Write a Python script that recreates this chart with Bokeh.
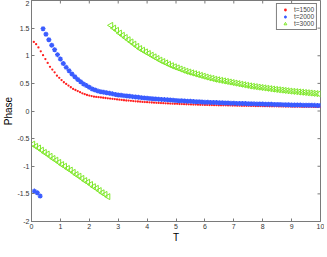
import numpy as np
from bokeh.plotting import figure
from bokeh.models import FixedTicker, Legend, LegendItem
from bokeh.embed import file_html
from bokeh.resources import INLINE

x_ticks = [0, 1, 2, 3, 4, 5, 6, 7, 8, 9, 10]
y_ticks = [-2, -1.5, -1, -0.5, 0, 0.5, 1, 1.5, 2]
y_tick_labels = ["-2", "-1.5", "-1", "-0.5", "0", "0.5", "1", "1.5", "2"]
series_names = ["t=1500", "t=2000", "t=3000"]

red_t = [0.08, 0.16, 0.24, 0.32, 0.40, 0.48, 0.56, 0.64, 0.72, 0.80,
         0.88, 0.96, 1.04, 1.12, 1.20, 1.28, 1.36, 1.44, 1.52, 1.60,
         1.68, 1.76, 1.84, 1.92, 2.00, 2.08, 2.16, 2.24, 2.32, 2.40,
         2.48, 2.56, 2.64, 2.72, 2.80, 2.88, 2.96, 3.04, 3.12, 3.20,
         3.28, 3.36, 3.44, 3.52, 3.60, 3.68, 3.76, 3.84, 3.92, 4.00,
         4.08, 4.16, 4.24, 4.32, 4.40, 4.48, 4.56, 4.64, 4.72, 4.80,
         4.88, 4.96, 5.04, 5.12, 5.20, 5.28, 5.36, 5.44, 5.52, 5.60,
         5.68, 5.76, 5.84, 5.92, 6.00, 6.08, 6.16, 6.24, 6.32, 6.40,
         6.48, 6.56, 6.64, 6.72, 6.80, 6.88, 6.96, 7.04, 7.12, 7.20,
         7.28, 7.36, 7.44, 7.52, 7.60, 7.68, 7.76, 7.84, 7.92, 8.00,
         8.08, 8.16, 8.24, 8.32, 8.40, 8.48, 8.56, 8.64, 8.72, 8.80,
         8.88, 8.96, 9.04, 9.12, 9.20, 9.28, 9.36, 9.44, 9.52, 9.60,
         9.68, 9.76, 9.84, 9.92, 10.00]
red_phase = [1.25, 1.21, 1.15, 1.08, 1.01, 0.94, 0.87, 0.80, 0.75, 0.70,
             0.64, 0.60, 0.56, 0.52, 0.49, 0.46, 0.43, 0.40, 0.38, 0.36,
             0.34, 0.32, 0.305, 0.29, 0.28, 0.27, 0.26, 0.255, 0.25, 0.245,
             0.24, 0.235, 0.23, 0.225, 0.22, 0.215, 0.21, 0.205, 0.20, 0.195,
             0.19, 0.188, 0.184, 0.18, 0.176, 0.172, 0.169, 0.165, 0.162, 0.16,
             0.157, 0.154, 0.151, 0.148, 0.146, 0.143, 0.141, 0.139, 0.137, 0.135,
             0.133, 0.131, 0.129, 0.127, 0.126, 0.124, 0.122, 0.121, 0.119, 0.118,
             0.116, 0.115, 0.113, 0.112, 0.11, 0.109, 0.108, 0.107, 0.106, 0.105,
             0.104, 0.103, 0.102, 0.102, 0.101, 0.100, 0.099, 0.098, 0.097, 0.096,
             0.095, 0.094, 0.094, 0.093, 0.092, 0.091, 0.090, 0.090, 0.089, 0.088,
             0.087, 0.087, 0.086, 0.085, 0.085, 0.084, 0.083, 0.083, 0.082, 0.081,
             0.081, 0.080, 0.079, 0.079, 0.078, 0.078, 0.077, 0.076, 0.076, 0.075,
             0.075, 0.074, 0.073, 0.073, 0.072]

blue_t = [0.1, 0.2, 0.3, 0.4, 0.5, 0.6, 0.7, 0.8, 0.9, 1.0,
          1.1, 1.2, 1.3, 1.4, 1.5, 1.6, 1.7, 1.8, 1.9, 2.0,
          2.1, 2.2, 2.3, 2.4, 2.5, 2.6, 2.7, 2.8, 2.9, 3.0,
          3.1, 3.2, 3.3, 3.4, 3.5, 3.6, 3.7, 3.8, 3.9, 4.0,
          4.1, 4.2, 4.3, 4.4, 4.5, 4.6, 4.7, 4.8, 4.9, 5.0,
          5.1, 5.2, 5.3, 5.4, 5.5, 5.6, 5.7, 5.8, 5.9, 6.0,
          6.1, 6.2, 6.3, 6.4, 6.5, 6.6, 6.7, 6.8, 6.9, 7.0,
          7.1, 7.2, 7.3, 7.4, 7.5, 7.6, 7.7, 7.8, 7.9, 8.0,
          8.1, 8.2, 8.3, 8.4, 8.5, 8.6, 8.7, 8.8, 8.9, 9.0,
          9.1, 9.2, 9.3, 9.4, 9.5, 9.6, 9.7, 9.8, 9.9, 10.0]
blue_phase = [-1.45, -1.48, -1.54, 1.49, 1.39, 1.29, 1.19, 1.11, 1.02, 0.94,
              0.86, 0.79, 0.73, 0.67, 0.62, 0.57, 0.53, 0.49, 0.46, 0.43,
              0.40, 0.38, 0.36, 0.35, 0.34, 0.33, 0.32, 0.31, 0.30, 0.29,
              0.284, 0.278, 0.272, 0.266, 0.26, 0.254, 0.248, 0.242, 0.236, 0.23,
              0.226, 0.222, 0.218, 0.214, 0.21, 0.206, 0.202, 0.198, 0.194, 0.19,
              0.187, 0.184, 0.181, 0.178, 0.175, 0.172, 0.169, 0.166, 0.163, 0.16,
              0.158, 0.156, 0.154, 0.152, 0.15, 0.148, 0.146, 0.144, 0.142, 0.14,
              0.138, 0.137, 0.135, 0.134, 0.132, 0.131, 0.129, 0.128, 0.126, 0.125,
              0.123, 0.122, 0.121, 0.119, 0.118, 0.116, 0.115, 0.114, 0.112, 0.11,
              0.109, 0.108, 0.107, 0.106, 0.105, 0.104, 0.103, 0.102, 0.101, 0.10]

green_t = [0.05, 0.15, 0.25, 0.35, 0.45, 0.55, 0.65, 0.75, 0.85, 0.95,
           1.05, 1.15, 1.25, 1.35, 1.45, 1.55, 1.65, 1.75, 1.85, 1.95,
           2.05, 2.15, 2.25, 2.35, 2.45, 2.55, 2.65, 2.75, 2.85, 2.95,
           3.05, 3.15, 3.25, 3.35, 3.45, 3.55, 3.65, 3.75, 3.85, 3.95,
           4.05, 4.15, 4.25, 4.35, 4.45, 4.55, 4.65, 4.75, 4.85, 4.95,
           5.05, 5.15, 5.25, 5.35, 5.45, 5.55, 5.65, 5.75, 5.85, 5.95,
           6.05, 6.15, 6.25, 6.35, 6.45, 6.55, 6.65, 6.75, 6.85, 6.95,
           7.05, 7.15, 7.25, 7.35, 7.45, 7.55, 7.65, 7.75, 7.85, 7.95,
           8.05, 8.15, 8.25, 8.35, 8.45, 8.55, 8.65, 8.75, 8.85, 8.95,
           9.05, 9.15, 9.25, 9.35, 9.45, 9.55, 9.65, 9.75, 9.85, 9.95]
green_phase = [-0.60, -0.64, -0.67, -0.71, -0.75, -0.78, -0.82, -0.86, -0.89, -0.93,
               -0.97, -1.00, -1.04, -1.07, -1.11, -1.15, -1.18, -1.22, -1.26, -1.29,
               -1.33, -1.37, -1.40, -1.44, -1.48, -1.51, -1.55, 1.55, 1.50, 1.46,
               1.41, 1.37, 1.33, 1.29, 1.25, 1.21, 1.17, 1.13, 1.10, 1.07,
               1.04, 1.01, 0.98, 0.95, 0.92, 0.895, 0.87, 0.845, 0.82, 0.80,
               0.78, 0.76, 0.74, 0.72, 0.705, 0.69, 0.675, 0.66, 0.645, 0.63,
               0.615, 0.60, 0.59, 0.575, 0.565, 0.555, 0.545, 0.535, 0.525, 0.515,
               0.505, 0.495, 0.485, 0.475, 0.465, 0.455, 0.447, 0.44, 0.432, 0.425,
               0.418, 0.411, 0.404, 0.397, 0.39, 0.384, 0.378, 0.372, 0.366, 0.36,
               0.355, 0.35, 0.345, 0.34, 0.335, 0.33, 0.325, 0.32, 0.315, 0.31]

FONT = "Liberation Sans"
AX = "#7a7a7a"

p = figure(frame_width=289, frame_height=221, x_range=(0, 10), y_range=(-2, 2),
           output_backend="svg", toolbar_location=None,
           min_border_left=0, min_border_right=4, min_border_top=0, min_border_bottom=0)
p.background_fill_color = "white"
p.border_fill_color = "white"
p.outline_line_color = AX
p.xgrid.visible = False
p.ygrid.visible = False

xa = p.xaxis[0]
ya = p.yaxis[0]
xa.ticker = FixedTicker(ticks=x_ticks)
ya.ticker = FixedTicker(ticks=y_ticks)
ya.major_label_overrides = {float(v): s for v, s in zip(y_ticks, y_tick_labels)}
xa.axis_label = "T"
ya.axis_label = "Phase"
for a in (xa, ya):
    a.axis_line_color = AX
    a.major_tick_line_color = AX
    a.major_tick_in = 3
    a.major_tick_out = 0
    a.minor_tick_line_color = None
    a.major_label_standoff = 2
    a.major_label_text_font = FONT
    a.major_label_text_color = "#333333"
    a.major_label_text_font_size = "7px"
    a.axis_label_text_font = FONT
    a.axis_label_text_color = "black"
    a.axis_label_text_font_size = "10px"
    a.axis_label_text_font_style = "normal"
    a.axis_label_standoff = 0

# tick marks on the top and right frame edges (MATLAB box style)
p.scatter(x_ticks, [y_ticks[-1]] * len(x_ticks), marker="dash", angle=np.pi / 2,
          size=6, line_color=AX, line_width=1)
p.scatter([x_ticks[-1]] * len(y_ticks), y_ticks, marker="dash",
          size=6, line_color=AX, line_width=1)

r_red = p.scatter(red_t, red_phase, marker="circle", size=2.3,
                  fill_color="#ff2020", line_color=None)
r_blue = p.scatter(blue_t, blue_phase, marker="asterisk", size=5,
                   line_color="#3a5cff", line_width=1.3)
r_green = p.scatter(green_t, green_phase, marker="triangle", angle=np.pi / 2,
                    size=6, fill_color=None, line_color="#7fe82a", line_width=1)

legend = Legend(items=[LegendItem(label=series_names[0], renderers=[r_red]),
                       LegendItem(label=series_names[1], renderers=[r_blue]),
                       LegendItem(label=series_names[2], renderers=[r_green])],
                location="top_right")
legend.label_text_font = FONT
legend.label_text_font_size = "6.5px"
legend.label_height = 7
legend.glyph_height = 7
legend.glyph_width = 12
legend.label_standoff = 3
legend.spacing = 0
legend.padding = 2
legend.margin = 3
legend.border_line_color = "black"
legend.border_line_width = 1
legend.background_fill_alpha = 1
p.add_layout(legend)

open("out.html", "w").write(file_html(p, INLINE))
